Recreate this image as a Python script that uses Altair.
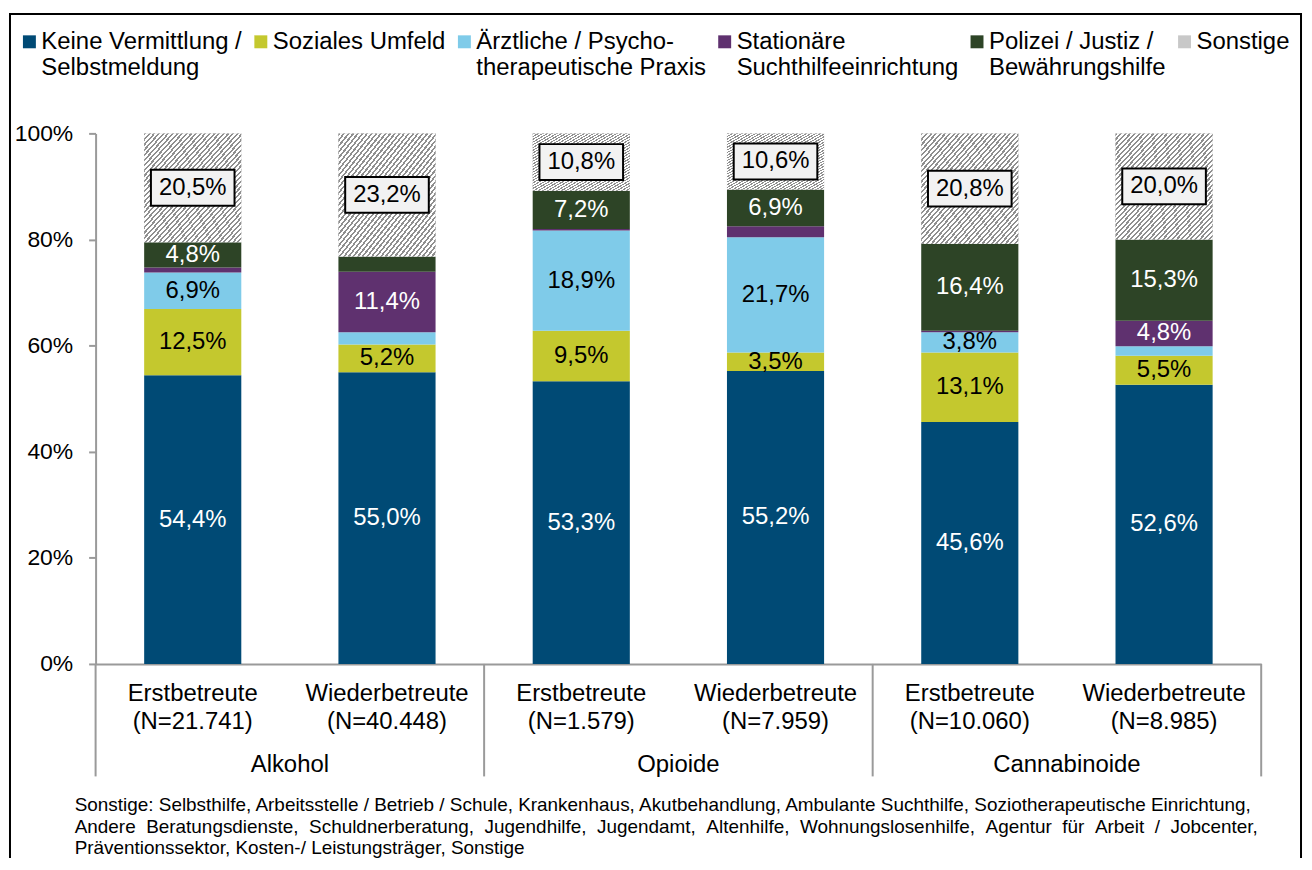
import altair as alt
import pandas as pd

# ---------------- data ----------------
substances = ["Alkohol", "Opioide", "Cannabinoide"]
groups = ["Erstbetreute", "Wiederbetreute"]
n_labels = ["(N=21.741)", "(N=40.448)", "(N=1.579)", "(N=7.959)", "(N=10.060)", "(N=8.985)"]

categories = [
    "Keine Vermittlung /|Selbstmeldung",
    "Soziales Umfeld|",
    "Ärztliche / Psycho-|therapeutische Praxis",
    "Stationäre|Suchthilfeeinrichtung",
    "Polizei / Justiz /|Bewährungshilfe",
    "Sonstige|",
]

keine = [54.4, 55.0, 53.3, 55.2, 45.6, 52.6]
soziales = [12.5, 5.2, 9.5, 3.5, 13.1, 5.5]
aerztlich = [6.9, 2.3, 18.9, 21.7, 3.8, 1.8]
stationaer = [0.9, 11.4, 0.3, 2.1, 0.3, 4.8]
polizei = [4.8, 2.9, 7.2, 6.9, 16.4, 15.3]
sonstige = [20.5, 23.2, 10.8, 10.6, 20.8, 20.0]

NB = " \u00a0"  # justified line: widened word gaps
footnote = [
    "Sonstige: Selbsthilfe, Arbeitsstelle / Betrieb / Schule, Krankenhaus, Akutbehandlung, Ambulante Suchthilfe, Soziotherapeutische Einrichtung,",
    NB.join(["Andere", "Beratungsdienste,", "Schuldnerberatung,", "Jugendhilfe,", "Jugendamt,",
             "Altenhilfe,", "Wohnungslosenhilfe,", "Agentur", "für", "Arbeit", "/", "Jobcenter,"]),
    "Präventionssektor, Kosten-/ Leistungsträger, Sonstige",
]

# ---------------- styles ----------------
colors = ["#004a75", "#c4c82e", "#7fcbe9", "#5f316f", "#2d4426", "#c8c8c8"]
label_colors = {
    categories[0]: "white",
    categories[1]: "black",
    categories[2]: "black",
    categories[3]: "white",
    categories[4]: "white",
    categories[5]: "black",
}
FONT = "Liberation Sans"
GRAY = "#9a9a9a"

# ---------------- table ----------------
series = [keine, soziales, aerztlich, stationaer, polizei, sonstige]
xcats = []
for si, s in enumerate(substances):
    for gi, g in enumerate(groups):
        xcats.append(f"{g}|{n_labels[si * 2 + gi]}")

rows = []
for i, xc in enumerate(xcats):
    cum = 0.0
    for cat, vals in zip(categories, series):
        v = vals[i]
        rows.append(dict(
            x=xc, cat=cat, value=v, y0=cum, y1=cum + v, mid=cum + v / 2,
            label=f"{v:.1f}".replace(".", ",") + "%",
            lblcol=label_colors[cat],
        ))
        cum += v
df = pd.DataFrame(rows)

grp_df = pd.DataFrame({"x": xcats[0::2], "subst": substances})
sep_end_df = pd.DataFrame({"x": xcats[1::2]})
sep_start_df = pd.DataFrame({"x": xcats[:1]})
one = pd.DataFrame({"k": [0]})

W, H = 1171, 533
xscale = alt.Scale(domain=xcats, paddingInner=0, paddingOuter=0)
yscale = alt.Scale(domain=[0, 100], nice=False)

X = alt.X(
    "x:N", scale=xscale, title=None,
    axis=alt.Axis(
        labelExpr="split(datum.label, '|')", ticks=False, labelAngle=0,
        labelPadding=18, labelLineHeight=28, labelFontSize=24, labelFont=FONT,
        labelColor="black", labelLimit=0, labelOverlap=False,
        domainColor=GRAY, domainWidth=2,
    ),
)
Y0 = alt.Y(
    "y0:Q", scale=yscale, title=None,
    axis=alt.Axis(
        values=[0, 20, 40, 60, 80, 100], labelExpr="datum.value + '%'",
        grid=False, tickSize=7, tickColor=GRAY, tickWidth=2, domainColor=GRAY,
        domainWidth=2, labelPadding=16, labelFontSize=23, labelFont=FONT,
        labelColor="black",
    ),
)

bars = alt.Chart(df).mark_bar(width=alt.RelativeBandSize(0.5)).encode(
    x=X,
    y=Y0,
    y2="y1:Q",
    color=alt.Color(
        "cat:N",
        scale=alt.Scale(domain=categories, range=colors),
        legend=alt.Legend(
            orient="none", legendX=-78.5, legendY=-104, direction="horizontal",
            columns=6, title=None, labelExpr="split(datum.label, '|')",
            labelFontSize=24, labelFont=FONT, labelColor="black", labelLimit=600,
            labelOffset=0, symbolType="square", symbolSize=169,
            symbolStrokeWidth=0, columnPadding=6.5, labelBaseline="middle",
            padding=0,
        ),
    ),
)

# hatch for "Sonstige"
stops = []
n_per = 42
for k in range(n_per):
    a = k / n_per
    b = (k + 0.45) / n_per
    c = (k + 1) / n_per
    stops += [
        alt.GradientStop(offset=a, color="#8f8f8f"),
        alt.GradientStop(offset=b, color="#8f8f8f"),
        alt.GradientStop(offset=b, color="#ffffff"),
        alt.GradientStop(offset=c, color="#ffffff"),
    ]
hatch = alt.Chart(df).transform_filter(alt.datum.cat == categories[5]).mark_bar(
    width=alt.RelativeBandSize(0.5),
    color=alt.LinearGradient(gradient="linear", stops=stops, x1=0, y1=0, x2=1, y2=1),
).encode(x=alt.X("x:N", scale=xscale), y=alt.Y("y0:Q", scale=yscale), y2="y1:Q")

boxes = alt.Chart(df).transform_filter(alt.datum.cat == categories[5]).mark_point(
    shape="M-1.2,-0.514H1.2V0.514H-1.2Z", size=4900, filled=True,
    fill="#f2f2f2", stroke="black", strokeWidth=2, opacity=1,
).encode(x=alt.X("x:N", scale=xscale), y=alt.Y("mid:Q", scale=yscale))

texts = alt.Chart(df).transform_filter(alt.datum.value >= 3).mark_text(
    font=FONT, fontSize=24, baseline="middle",
).encode(
    x=alt.X("x:N", scale=xscale),
    y=alt.Y("mid:Q", scale=yscale),
    text="label:N",
    color=alt.Color("lblcol:N", scale=None),
)

sep_end = alt.Chart(sep_end_df).mark_rule(color=GRAY, strokeWidth=2).encode(
    x=alt.X("x:N", scale=xscale, bandPosition=1),
    y=alt.value(H), y2=alt.value(H + 113),
)
sep_start = alt.Chart(sep_start_df).mark_rule(color=GRAY, strokeWidth=2).encode(
    x=alt.X("x:N", scale=xscale, bandPosition=0),
    y=alt.value(H), y2=alt.value(H + 113),
)
group_labels = alt.Chart(grp_df).mark_text(
    font=FONT, fontSize=24, baseline="middle", color="black",
).encode(
    x=alt.X("x:N", scale=xscale, bandPosition=1),
    y=alt.value(H + 102),
    text="subst:N",
)

note = alt.Chart(one).mark_text(
    font=FONT, fontSize=19, align="left", baseline="alphabetic",
    lineHeight=21.5, color="black",
).encode(x=alt.value(-21), y=alt.value(681), text=alt.value(footnote))

frame = alt.Chart(one).mark_rect(
    fillOpacity=0, stroke="black", strokeWidth=2,
).encode(x=alt.value(-86), x2=alt.value(1211), y=alt.value(-120), y2=alt.value(760))

chart = alt.layer(
    bars, hatch, boxes, texts, sep_end, sep_start, group_labels, note, frame
).properties(
    width=W, height=H,
    autosize=alt.AutoSizeParams(type="none"),
    padding={"left": 88, "top": 124, "right": 43, "bottom": 193},
).configure_view(stroke=None).configure_text(font=FONT)

chart.save("out.html", embed_options={"renderer": "svg", "actions": False})
